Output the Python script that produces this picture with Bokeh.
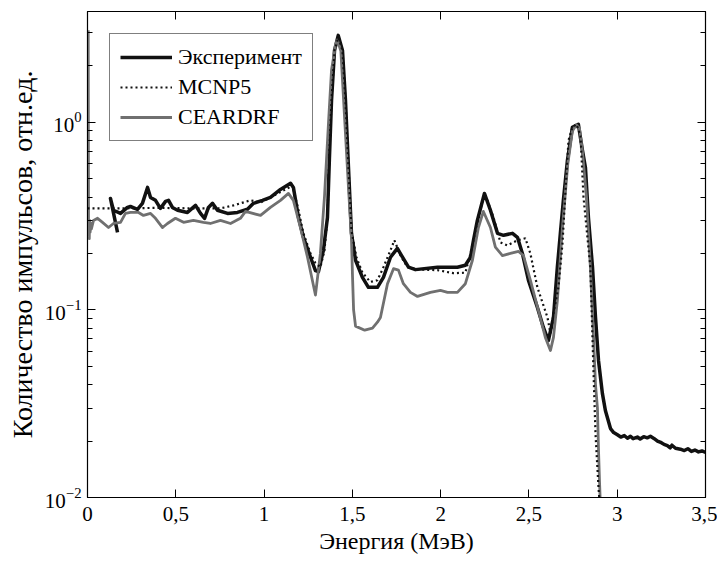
from bokeh.plotting import figure
from bokeh.models import (Range1d, LogAxis, LinearAxis, FixedTicker, LogTicker,
                          CustomJSTickFormatter, Legend, LegendItem)
from bokeh.embed import file_html
from bokeh.resources import INLINE

# ---------------- data ----------------
exp_e = [0.170, 0.130, 0.147, 0.187, 0.226, 0.243, 0.283, 0.311, 0.340, 0.357, 0.385,
         0.413, 0.442, 0.459, 0.481, 0.510, 0.566, 0.612, 0.640, 0.663, 0.685, 0.708,
         0.736, 0.793, 0.849, 0.906, 0.940, 0.991, 1.036, 1.093, 1.150, 1.166, 1.195,
         1.223, 1.263, 1.291, 1.308, 1.336, 1.359, 1.370, 1.382, 1.399, 1.420, 1.444,
         1.461, 1.478, 1.495, 1.518, 1.557, 1.591, 1.642, 1.676, 1.716, 1.755, 1.784,
         1.818, 1.857, 1.982, 2.095, 2.140, 2.169, 2.186, 2.208, 2.248, 2.282, 2.322,
         2.356, 2.407, 2.435, 2.463, 2.497, 2.548, 2.582, 2.610, 2.639, 2.661, 2.678,
         2.695, 2.718, 2.746, 2.780, 2.803, 2.820, 2.837, 2.860, 2.877, 2.894, 2.916,
         2.933, 2.962, 2.980, 3.001, 3.020, 3.040, 3.058, 3.075, 3.090, 3.114, 3.130,
         3.150, 3.170, 3.188, 3.210, 3.228, 3.250, 3.265, 3.284, 3.300, 3.310, 3.330,
         3.358, 3.380, 3.400, 3.420, 3.440, 3.460, 3.480, 3.500]
exp_v = [0.259, 0.393, 0.340, 0.327, 0.352, 0.356, 0.344, 0.370, 0.450, 0.398, 0.384,
         0.348, 0.379, 0.384, 0.352, 0.340, 0.331, 0.361, 0.327, 0.308, 0.352, 0.370,
         0.340, 0.327, 0.331, 0.344, 0.370, 0.384, 0.398, 0.439, 0.473, 0.450, 0.311,
         0.244, 0.191, 0.162, 0.160, 0.208, 0.311, 0.640, 1.31, 2.42, 2.91, 2.42,
         1.31, 0.575, 0.256, 0.184, 0.149, 0.132, 0.132, 0.149, 0.191, 0.213, 0.191,
         0.169, 0.164, 0.169, 0.169, 0.173, 0.191, 0.235, 0.300, 0.418, 0.340, 0.256,
         0.250, 0.256, 0.244, 0.200, 0.144, 0.103, 0.0807, 0.0687, 0.0912, 0.169, 0.256,
         0.384, 0.627, 0.940, 0.976, 0.709, 0.575, 0.311, 0.169, 0.0912, 0.0538, 0.0359,
         0.0291, 0.0233, 0.0222, 0.0216, 0.0210, 0.0214, 0.0207, 0.0212, 0.0206, 0.0210, 0.0205,
         0.0211, 0.0208, 0.0212, 0.0206, 0.0200, 0.0196, 0.0192, 0.0189, 0.0184, 0.0190, 0.0183,
         0.0181, 0.0178, 0.0182, 0.0176, 0.0179, 0.0175, 0.0177, 0.0174]

mcnp_e = [0.0, 0.2, 0.4, 0.6, 0.753, 0.827, 0.923, 0.980, 1.133, 1.161, 1.195, 1.223,
          1.263, 1.291, 1.319, 1.342, 1.359, 1.370, 1.382, 1.399, 1.421, 1.444, 1.461,
          1.478, 1.495, 1.523, 1.557, 1.602, 1.642, 1.676, 1.716, 1.738, 1.773, 1.812,
          1.886, 1.982, 2.072, 2.140, 2.169, 2.203, 2.242, 2.265, 2.299, 2.339, 2.378,
          2.435, 2.480, 2.508, 2.548, 2.605, 2.622, 2.639, 2.667, 2.690, 2.707, 2.724,
          2.746, 2.769, 2.792, 2.809, 2.848, 2.865, 2.877, 2.894, 2.900]
mcnp_v = [0.348, 0.348, 0.350, 0.348, 0.348, 0.361, 0.384, 0.374, 0.445, 0.461, 0.340, 0.256,
          0.200, 0.178, 0.169, 0.208, 0.311, 0.684, 1.31, 2.42, 2.84, 2.42, 1.31,
          0.575, 0.265, 0.191, 0.158, 0.141, 0.144, 0.169, 0.208, 0.235, 0.195, 0.169,
          0.164, 0.163, 0.157, 0.158, 0.200, 0.280, 0.398, 0.384, 0.311, 0.229, 0.221,
          0.235, 0.241, 0.200, 0.132, 0.0912, 0.0750, 0.0958, 0.132, 0.226, 0.430, 0.800,
          0.940, 0.976, 0.850, 0.400, 0.169, 0.049, 0.0219, 0.0113, 0.0095]

cear_e = [0.004, 0.006, 0.008, 0.010, 0.012, 0.015, 0.018, 0.022, 0.034, 0.057, 0.085,
          0.119, 0.147, 0.187, 0.215, 0.243, 0.289, 0.317, 0.357, 0.385, 0.425, 0.453,
          0.498, 0.544, 0.600, 0.657, 0.696, 0.753, 0.810, 0.866, 0.895, 0.980, 1.036,
          1.093, 1.138, 1.166, 1.206, 1.246, 1.291, 1.319, 1.342, 1.365, 1.382, 1.405,
          1.415, 1.435, 1.455, 1.478, 1.495, 1.501, 1.507, 1.518, 1.570, 1.614, 1.642,
          1.659, 1.699, 1.733, 1.761, 1.789, 1.829, 1.869, 1.942, 1.999, 2.039, 2.095,
          2.140, 2.180, 2.214, 2.242, 2.282, 2.310, 2.350, 2.395, 2.441, 2.469, 2.508,
          2.554, 2.593, 2.622, 2.639, 2.661, 2.690, 2.720, 2.746, 2.769, 2.786, 2.803,
          2.826, 2.848, 2.865, 2.877, 2.888, 2.894, 2.900, 2.905]
cear_v = [3.10, 0.25, 0.29, 0.24, 0.30, 0.26, 0.29, 0.27, 0.300, 0.308, 0.293,
          0.275, 0.289, 0.293, 0.327, 0.331, 0.331, 0.319, 0.327, 0.308, 0.275, 0.289,
          0.308, 0.293, 0.300, 0.293, 0.289, 0.300, 0.289, 0.308, 0.335, 0.319, 0.352,
          0.384, 0.418, 0.384, 0.275, 0.191, 0.120, 0.200, 0.400, 1.00, 1.90, 2.60,
          2.75, 2.40, 1.10, 0.45, 0.24, 0.15, 0.100, 0.082, 0.078, 0.080, 0.086,
          0.0912, 0.138, 0.166, 0.163, 0.138, 0.124, 0.118, 0.124, 0.127, 0.124, 0.124,
          0.138, 0.184, 0.275, 0.335, 0.275, 0.216, 0.195, 0.200, 0.205, 0.195, 0.144,
          0.099, 0.0714, 0.0608, 0.0714, 0.112, 0.275, 0.600, 0.900, 0.970, 0.930, 0.700,
          0.400, 0.169, 0.075, 0.040, 0.030, 0.018, 0.012, 0.009]

x_ticks = [0, 0.5, 1, 1.5, 2, 2.5, 3, 3.5]
names = ["Эксперимент", "MCNP5", "CEARDRF"]

FONT = "'Liberation Serif', 'DejaVu Serif', serif"

p = figure(width=717, height=562, output_backend="svg", toolbar_location=None,
           y_axis_type="log", x_range=Range1d(0, 3.5), y_range=Range1d(0.01, 3.9),
           min_border_left=87, min_border_right=12, min_border_top=11,
           min_border_bottom=65)
p.xgrid.visible = False
p.ygrid.visible = False
p.outline_line_color = "black"
p.outline_line_width = 1.2
p.background_fill_color = "white"
p.border_fill_color = "white"

fmt = CustomJSTickFormatter(code="return tick.toString().replace('.', ',');")

xa = p.xaxis[0]
xa.ticker = FixedTicker(ticks=x_ticks, minor_ticks=[])
xa.formatter = fmt
xa.axis_label = "Энергия (МэВ)"
ya = p.yaxis[0]
ya.ticker = LogTicker(num_minor_ticks=10)
ya.axis_label = "Количество импульсов, отн.ед."

for ax in (xa, ya):
    ax.axis_label_text_font = FONT
    ax.axis_label_text_font_style = "normal"
    ax.axis_label_text_color = "black"
    ax.major_label_text_font = FONT
    ax.major_label_text_font_size = "21px"
    ax.major_label_text_color = "black"
    ax.major_tick_in = 8
    ax.major_tick_out = 0
    ax.minor_tick_in = 5
    ax.minor_tick_out = 0
    ax.axis_line_color = "black"
    ax.major_tick_line_color = "black"
    ax.minor_tick_line_color = "black"
xa.axis_label_text_font_size = "24px"
ya.axis_label_text_font_size = "28px"
xa.major_label_standoff = 9
xa.axis_label_standoff = 4
ya.major_label_standoff = 6
ya.axis_label_standoff = 4

top = LinearAxis(ticker=FixedTicker(ticks=x_ticks, minor_ticks=[]),
                 major_label_text_font_size="2px", major_label_text_alpha=0,
                 major_label_standoff=0,
                 major_tick_in=8, major_tick_out=0, minor_tick_in=0, minor_tick_out=0)
right = LogAxis(ticker=LogTicker(num_minor_ticks=10),
                major_label_text_font_size="2px", major_label_text_alpha=0,
                major_label_standoff=0,
                major_tick_in=8, major_tick_out=0, minor_tick_in=5, minor_tick_out=0)
p.add_layout(top, "above")
p.add_layout(right, "right")

r_exp = p.line(exp_e, exp_v, line_color="#111111", line_width=3.5, line_join="round")
r_cear = p.line(cear_e, cear_v, line_color="#707070", line_width=2.8, line_join="round")
r_mcnp = p.line(mcnp_e, mcnp_v, line_color="#111111", line_width=2.2, line_dash="2 3")

legend = Legend(items=[LegendItem(label=names[0], renderers=[r_exp]),
                       LegendItem(label=names[1], renderers=[r_mcnp]),
                       LegendItem(label=names[2], renderers=[r_cear])],
                location="top_left", margin=22, padding=10, spacing=4,
                label_height=20, glyph_height=20, glyph_width=52, label_standoff=6,
                label_text_font=FONT, label_text_font_size="22px",
                label_text_color="black", border_line_color="black",
                border_line_width=1.2, background_fill_color="white",
                background_fill_alpha=1.0)
p.add_layout(legend, "center")

open("out.html", "w").write(file_html(p, INLINE))
